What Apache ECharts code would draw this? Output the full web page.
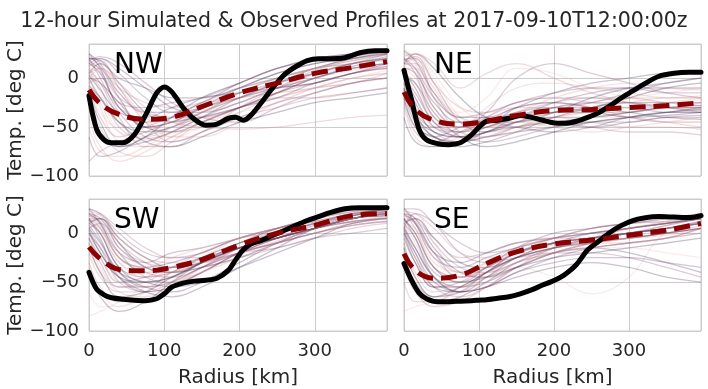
<!DOCTYPE html>
<html>
<head>
<meta charset="utf-8">
<script src="https://cdn.jsdelivr.net/npm/echarts@6/dist/echarts.min.js"></script>
<style>html,body{margin:0;padding:0;background:#fff}#c{width:708px;height:389px}</style>
</head>
<body>
<div id="c"></div>
<script>
const titleText = '12-hour Simulated & Observed Profiles at 2017-09-10T12:00:00z';
const panelNames = ['NW', 'NE', 'SW', 'SE'];
const xTicks = [0, 100, 200, 300];
const yTicks = [-100, -50, 0];

// radius grid of ensemble members and ensemble mean (km)
const memberR = [0, 15, 40, 75, 110, 150, 200, 250, 300, 350, 396];
// radius grid of observed profiles (km)
const obsR = [0, 10, 20, 30, 45, 60, 75, 90, 100, 110, 125, 140, 155, 170, 185, 195, 205, 215, 230, 245, 260, 275, 290, 305, 320, 340, 360, 380, 396];

const obsNW = [-18, -52, -63, -66, -66, -58, -38, -15, -9, -14, -30, -42, -48, -47, -41, -40, -43, -38, -24, -9, 4, 12, 18, 20, 20, 21, 26, 28, 28];
const obsNE = [8, -22, -52, -63, -67, -68, -66, -58, -50, -44, -43, -41, -38, -40, -43, -45, -46, -46, -44, -40, -35, -28, -20, -13, -6, 2, 5, 6, 6];
const obsSW = [-40, -57, -63, -66, -67.5, -68.5, -69, -67, -62, -55, -51, -49, -48, -46, -38, -27, -17, -11, -7, -2, 3, 8, 13, 17, 21, 25, 26, 26, 26];
const obsSE = [-31, -48, -61, -67, -70, -70, -69.5, -69, -68.5, -68, -66.5, -65, -62, -58, -53, -50, -46.5, -42, -32, -17, -8, 1, 8, 13, 15.5, 17, 16.5, 16, 18];

const meanNW = [-12, -26, -37, -42, -40, -29, -15, -5, 5, 11, 17];
const meanNE = [-14, -32, -43, -47, -44, -38, -33, -32, -30, -28, -25];
const meanSW = [-14, -26, -37, -38.5, -35, -27, -12, 0, 8, 18, 20];
const meanSE = [-21, -38, -46, -43, -31, -19, -11, -7, -2, 3, 10];

const membersNW = [
  [10, 15, -20, -55, -60, -50, -30, -15, -5, 5, 10],
  [5, -10, -50, -62, -55, -40, -25, -10, 5, 15, 20],
  [20, 18, -5, -35, -45, -35, -15, 0, 10, 15, 22],
  [-5, -30, -65, -70, -60, -45, -30, -20, -10, 0, 5],
  [15, 20, 5, -20, -35, -30, -15, -5, 5, 15, 25],
  [0, -20, -45, -55, -50, -35, -20, -5, 10, 20, 25],
  [-20, -50, -75, -80, -65, -45, -30, -15, -5, 5, 10],
  [25, 10, -30, -45, -40, -25, -10, 5, 15, 20, 28],
  [10, 5, -15, -40, -50, -45, -35, -25, -10, 0, 8],
  [-10, -40, -60, -50, -40, -30, -20, -10, 0, 10, 15],
  [5, 15, 0, -10, -20, -20, -10, 0, 10, 20, 25],
  [-40, -70, -85, -75, -60, -45, -30, -20, -10, -5, 0],
  [20, 0, -35, -60, -65, -55, -40, -25, -15, -5, 0],
  [0, -5, -25, -50, -45, -30, -10, 5, 15, 22, 28],
  [15, 10, -10, -25, -30, -25, -20, -15, -10, -5, 5],
  [-60, -80, -75, -60, -50, -40, -30, -20, -5, 5, 10],
  [10, -15, -55, -65, -50, -35, -15, 0, 10, 15, 20],
  [-5, 0, -20, -35, -40, -40, -30, -20, -20, -15, -10],
  [20, 20, 10, -10, -30, -35, -25, -10, 0, 10, 15],
  [0, -25, -55, -60, -50, -30, -10, 0, 10, 18, 24],
  [-85, -75, -65, -55, -45, -40, -30, -15, 0, 10, 15],
  [15, 5, -30, -50, -55, -45, -30, -15, 0, 12, 20],
  [5, 10, -5, -30, -45, -50, -52, -50, -45, -40, -38],
  [25, 15, -15, -35, -35, -25, -5, 10, 18, 25, 30],
  [-10, -35, -50, -45, -35, -25, -15, -5, 5, 10, 12],
  [10, -5, -40, -70, -70, -55, -40, -30, -20, -15, -10],
  [-30, -60, -70, -65, -55, -40, -20, -5, 5, 15, 20],
  [0, 10, -10, -40, -60, -60, -45, -25, -10, 0, 5],
  [18, 22, 15, -5, -25, -40, -45, -30, -15, -5, 0],
  [-15, -45, -70, -60, -40, -20, -5, 10, 20, 25, 30],
  [8, -5, -30, -45, -55, -50, -35, -15, 5, 15, 18],
  [22, 12, -20, -50, -45, -30, -20, -10, -5, 5, 12],
  [-25, -55, -65, -55, -45, -35, -25, -10, 0, 8, 12],
  [12, 18, -10, -45, -65, -55, -30, -10, 8, 18, 24],
  [3, -12, -35, -40, -30, -20, -15, -10, -5, 5, 15],
  [-50, -75, -80, -70, -55, -35, -20, -5, 10, 20, 25],
  [18, 8, -25, -30, -25, -20, -5, 10, 20, 25, 27],
  [-8, -20, -45, -65, -70, -60, -45, -35, -25, -20, -15]
];
const membersNE = [
  [10, 25, 0, -40, -50, -45, -40, -35, -30, -25, -20],
  [20, 20, -20, -55, -60, -50, -40, -35, -35, -30, -30],
  [-10, -40, -60, -65, -55, -45, -40, -40, -35, -30, -28],
  [25, 15, -30, -50, -30, -10, -5, -10, -15, -20, -20],
  [0, -20, -50, -60, -65, -60, -50, -45, -45, -40, -40],
  [15, 25, 10, -20, -40, -45, -35, -20, -10, -5, 0],
  [-20, -50, -65, -55, -40, -30, -30, -35, -40, -45, -50],
  [5, -10, -45, -55, -50, -40, -25, -15, -10, -10, -10],
  [30, 20, -10, -35, -20, 10, 5, -10, -20, -25, -25],
  [-5, -30, -55, -65, -60, -50, -45, -50, -55, -55, -58],
  [10, 5, -25, -45, -45, -30, -15, -5, 0, 5, 5],
  [-30, -60, -70, -60, -50, -40, -35, -30, -25, -20, -20],
  [20, 10, -30, -50, -45, -35, -30, -30, -30, -35, -35],
  [0, -5, -35, -60, -70, -65, -55, -45, -40, -35, -32],
  [15, 20, -5, -30, -35, -25, -20, -25, -30, -30, -25],
  [-15, -45, -60, -50, -40, -40, -45, -50, -45, -40, -38],
  [25, 25, 5, -30, -45, -50, -40, -30, -20, -15, -10],
  [5, -20, -50, -55, -40, -25, -20, -20, -25, -30, -33],
  [-40, -65, -70, -65, -55, -50, -45, -40, -35, -30, -30],
  [10, 10, -20, -45, -55, -50, -35, -25, -20, -20, -18],
  [20, 5, -40, -50, -35, 0, 15, 5, -5, -15, -20],
  [0, -25, -55, -60, -55, -45, -35, -30, -20, -10, -5],
  [15, 15, -15, -40, -45, -40, -40, -45, -50, -50, -52],
  [-10, -35, -50, -45, -45, -50, -55, -50, -40, -35, -35],
  [25, 20, -10, -45, -50, -40, -30, -30, -30, -25, -22],
  [5, -5, -40, -55, -45, -30, -25, -30, -40, -45, -45],
  [-20, -50, -60, -70, -65, -55, -40, -30, -25, -25, -25],
  [10, 0, -30, -50, -50, -35, -20, -10, -5, -10, -12],
  [18, 22, -5, -45, -55, -45, -30, -25, -25, -30, -35],
  [-5, -35, -60, -65, -60, -55, -50, -45, -40, -35, -30],
  [22, 25, 15, -10, 5, 15, 0, -15, -25, -30, -30],
  [0, -15, -45, -60, -55, -40, -30, -25, -15, -5, 0],
  [12, 5, -35, -55, -60, -55, -45, -40, -40, -45, -45],
  [-25, -55, -65, -55, -45, -35, -25, -20, -20, -25, -28],
  [28, 18, -15, -40, -40, -30, -25, -30, -35, -40, -42],
  [8, -10, -40, -50, -45, -45, -50, -55, -50, -45, -40],
  [15, 10, -20, -40, -35, -25, -15, -10, -10, -15, -15],
  [-12, -40, -55, -60, -50, -40, -35, -35, -40, -38, -35]
];
const membersSW = [
  [15, 20, -10, -40, -45, -35, -15, -5, 5, 15, 20],
  [5, -15, -50, -60, -55, -40, -20, -5, 10, 18, 22],
  [20, 10, -25, -35, -30, -20, -5, 5, 12, 20, 25],
  [-10, -35, -60, -65, -55, -40, -20, -10, 0, 10, 15],
  [25, 20, 0, -20, -25, -20, -5, 0, 10, 20, 25],
  [0, -20, -45, -50, -45, -30, -15, -5, 5, 15, 18],
  [-30, -55, -70, -70, -55, -35, -15, -5, 5, 12, 15],
  [10, 0, -35, -45, -40, -25, -10, 0, 10, 18, 22],
  [-60, -75, -75, -60, -45, -30, -10, 0, 8, 15, 20],
  [15, 15, -15, -30, -35, -30, -20, -10, 0, 10, 15],
  [5, -10, -40, -55, -60, -50, -30, -10, 5, 15, 20],
  [20, 5, -30, -40, -35, -25, -15, -5, 5, 12, 18],
  [-5, -30, -55, -55, -40, -25, -10, 0, 10, 20, 25],
  [10, 15, -5, -25, -35, -30, -15, -5, 5, 15, 22],
  [-20, -45, -60, -60, -50, -35, -20, -10, 0, 8, 12],
  [25, 10, -20, -30, -20, -15, -5, 5, 15, 22, 28],
  [0, -25, -50, -55, -50, -40, -25, -10, 0, 10, 15],
  [15, 5, -25, -40, -45, -35, -15, 0, 10, 18, 22],
  [-40, -65, -80, -70, -50, -30, -15, -5, 5, 15, 18],
  [10, 0, -30, -45, -40, -30, -10, 5, 15, 22, 25],
  [5, 10, -15, -35, -40, -30, -20, -15, -5, 0, 5],
  [20, 15, -10, -35, -40, -35, -25, -10, 5, 15, 20],
  [-10, -40, -55, -50, -35, -20, -5, 5, 12, 20, 25],
  [15, -5, -45, -60, -55, -40, -20, -5, 5, 15, 20],
  [-85, -80, -70, -55, -40, -25, -10, 0, 10, 18, 22],
  [25, 20, 5, -15, -25, -25, -15, -5, 5, 15, 20],
  [0, -15, -40, -50, -55, -50, -35, -20, -5, 10, 15],
  [10, 5, -20, -40, -40, -25, -5, 5, 15, 22, 26],
  [18, 12, -20, -45, -50, -40, -20, -5, 8, 18, 24],
  [-15, -40, -65, -60, -45, -30, -15, -5, 5, 12, 16],
  [22, 18, -5, -25, -30, -30, -20, -8, 5, 15, 20],
  [8, -8, -40, -55, -50, -35, -20, -10, 0, 8, 12],
  [-30, -60, -75, -65, -50, -40, -25, -10, 5, 15, 20],
  [12, 15, -10, -30, -40, -35, -25, -15, -5, 5, 10],
  [3, -20, -45, -60, -65, -55, -35, -15, 5, 18, 25],
  [20, 8, -25, -35, -25, -15, -5, 5, 12, 20, 24],
  [-5, -25, -50, -45, -35, -25, -15, -5, 5, 15, 20],
  [14, 0, -35, -50, -45, -30, -10, 5, 15, 24, 28]
];
const membersSE = [
  [15, 20, -10, -40, -40, -30, -15, -5, 5, 10, 15],
  [5, -20, -55, -65, -55, -35, -15, -5, 5, 10, 15],
  [20, 10, -20, -30, -20, -10, -5, 0, 5, 10, 15],
  [-10, -45, -65, -60, -45, -30, -20, -15, -10, -5, 5],
  [25, 25, 10, -10, -20, -15, -5, 5, 10, 15, 20],
  [0, -30, -55, -55, -40, -20, -10, -5, 0, 5, 10],
  [-35, -60, -75, -70, -55, -35, -20, -10, -5, 0, 5],
  [10, -5, -40, -50, -35, -15, 0, 5, 10, 12, 15],
  [-5, -30, -50, -50, -45, -35, -45, -62, -45, 0, 5],
  [15, 10, -20, -40, -35, -20, -10, -5, 0, 5, 10],
  [5, -15, -45, -55, -50, -35, -20, -15, -20, -30, -40],
  [20, 5, -35, -45, -30, -15, -5, 0, 5, 12, 18],
  [-20, -50, -65, -60, -40, -20, -10, -5, 0, 5, 10],
  [10, 15, -5, -30, -35, -25, -15, -10, -5, 0, 5],
  [-50, -70, -70, -55, -40, -25, -15, -10, -5, 0, 8],
  [25, 10, -25, -35, -25, -15, -5, 0, 5, 10, 15],
  [0, -25, -50, -55, -45, -30, -20, -15, -15, -20, -25],
  [15, 0, -35, -45, -35, -20, -5, 5, 10, 15, 20],
  [-30, -55, -70, -65, -50, -30, -15, -5, 0, 5, 10],
  [10, -10, -45, -55, -40, -25, -15, -10, -10, -5, 0],
  [5, 20, 10, -20, -30, -25, -20, -20, -25, -35, -45],
  [20, 15, -15, -40, -45, -35, -20, -10, 0, 5, 12],
  [-10, -40, -60, -55, -40, -25, -15, -5, 5, 10, 15],
  [15, -5, -45, -60, -55, -40, -25, -15, -10, -5, 5],
  [-80, -75, -70, -60, -45, -30, -15, -5, 5, 12, 18],
  [25, 15, -5, -25, -20, -10, -5, -5, 0, 5, 10],
  [0, -20, -50, -60, -55, -45, -35, -30, -35, -45, -50],
  [10, 5, -25, -45, -35, -15, -5, 0, 5, 10, 15],
  [18, 12, -20, -45, -40, -25, -10, -5, 0, 5, 12],
  [-15, -45, -65, -55, -40, -25, -15, -8, -5, 0, 5],
  [22, 20, 5, -20, -25, -20, -10, -5, 0, 8, 15],
  [8, -15, -45, -60, -55, -40, -30, -25, -25, -30, -35],
  [-30, -60, -75, -65, -50, -35, -20, -10, -5, 5, 12],
  [12, 15, -10, -35, -40, -30, -20, -15, -10, -5, 0],
  [3, -25, -55, -60, -45, -25, -10, 0, 5, 10, 15],
  [20, 5, -30, -40, -30, -20, -12, -8, -5, -2, 5],
  [-5, -30, -55, -50, -35, -20, -10, -5, 0, 8, 15],
  [14, 0, -35, -50, -45, -35, -25, -20, -15, -10, -5]
];

const palette = ['#e8bcb6', '#d99a9a', '#c47a8b', '#a6607e', '#854872', '#613763', '#432850', '#2d1e3e'];
const FONT = 'DejaVu Sans';
const TXT = '#262626';

const obsAll = [obsNW, obsNE, obsSW, obsSE];
const meanAll = [meanNW, meanNE, meanSW, meanSE];
const memAll = [membersNW, membersNE, membersSW, membersSE];

const gridPos = [
  {left: 89, top: 44, width: 298, height: 132},
  {left: 404, top: 44, width: 297, height: 132},
  {left: 89, top: 199, width: 298, height: 132},
  {left: 404, top: 199, width: 297, height: 132}
];
const labelPos = [[114, 67], [434, 67], [114, 222], [434, 222]];

const minusFmt = v => (v < 0 ? '\u2212' + Math.abs(v) : String(v));

const grids = gridPos.map(g => Object.assign({show: true, borderColor: '#cccccc', borderWidth: 1, backgroundColor: '#fff', containLabel: false}, g));

const xAxes = gridPos.map((g, i) => ({
  type: 'value', gridIndex: i, min: 0, max: 396, interval: 100,
  axisLine: {show: false}, axisTick: {show: false},
  splitLine: {show: true, lineStyle: {color: '#cccccc', width: 1}},
  axisLabel: {show: i >= 2, showMaxLabel: false, margin: 11, fontSize: 18, fontFamily: FONT, color: TXT,
    formatter: v => (xTicks.indexOf(v) >= 0 ? String(v) : '')},
  name: i >= 2 ? 'Radius [km]' : '', nameLocation: 'middle', nameGap: 37,
  nameTextStyle: {fontSize: 20, fontFamily: FONT, color: TXT}
}));
const yAxes = gridPos.map((g, i) => ({
  type: 'value', gridIndex: i, min: -100, max: 35, interval: 50,
  axisLine: {show: false}, axisTick: {show: false},
  splitLine: {show: true, lineStyle: {color: '#cccccc', width: 1}},
  axisLabel: {show: i % 2 === 0, showMaxLabel: false, margin: 10, fontSize: 18, fontFamily: FONT, color: TXT,
    formatter: v => (yTicks.indexOf(v) >= 0 ? minusFmt(v) : '')},
  name: i % 2 === 0 ? 'Temp. [deg C]' : '', nameLocation: 'middle', nameGap: 61,
  nameTextStyle: {fontSize: 20, fontFamily: FONT, color: TXT}
}));

const series = [];
for (let p = 0; p < 4; p++) {
  memAll[p].forEach((m, i) => {
    series.push({
      type: 'line', xAxisIndex: p, yAxisIndex: p, silent: true, symbol: 'none', smooth: 0.4, z: 1,
      data: memberR.map((r, j) => [r, m[j]]),
      lineStyle: {width: 1.3, color: palette[(i * 3) % palette.length], opacity: 0.28}
    });
  });
  series.push({
    type: 'line', xAxisIndex: p, yAxisIndex: p, silent: true, symbol: 'none', smooth: 0.3, z: 3,
    data: obsR.map((r, j) => [r, obsAll[p][j]]),
    lineStyle: {width: 5, color: '#000000', cap: 'round', join: 'round'}
  });
  series.push({
    type: 'line', xAxisIndex: p, yAxisIndex: p, silent: true, symbol: 'none', smooth: 0.4, z: 4,
    data: memberR.map((r, j) => [r, meanAll[p][j]]),
    lineStyle: {width: 5, color: '#8b0000', type: [16, 8], cap: 'butt'}
  });
}

const graphics = panelNames.map((n, i) => ({
  type: 'text', left: labelPos[i][0], top: labelPos[i][1] - 15, z: 10,
  style: {text: n, fontSize: 28, fontFamily: FONT, fill: '#000'}
}));

const chart = echarts.init(document.getElementById('c'), null, {renderer: 'canvas'});
chart.setOption({
  animation: false,
  backgroundColor: '#ffffff',
  title: {text: titleText, left: 'center', top: 6, textStyle: {fontSize: 20.5, fontWeight: 'normal', fontFamily: FONT, color: TXT}},
  grid: grids, xAxis: xAxes, yAxis: yAxes, series: series, graphic: graphics
});
</script>
</body>
</html>
